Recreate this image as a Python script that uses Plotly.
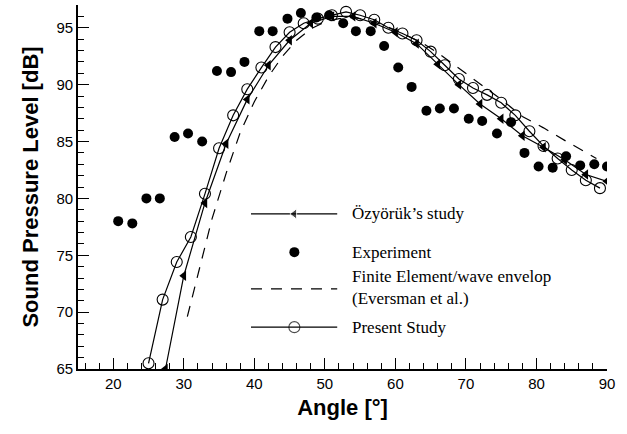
import plotly.graph_objects as go

# Experiment (filled dots)
exp_angle = [20.7, 22.7, 24.7, 26.6, 28.7, 30.6, 32.6, 34.7, 36.7, 38.6, 40.7, 42.6,
             44.7, 46.6, 48.8, 50.6, 52.6, 54.4, 56.5, 58.4, 60.4, 62.3, 64.4, 66.3,
             68.3, 70.4, 72.3, 74.4, 76.4, 78.3, 80.3, 82.3, 84.2, 86.2, 88.2, 90.0]
exp_spl = [78.0, 77.8, 80.0, 80.0, 85.4, 85.7, 85.0, 91.2, 91.1, 92.0, 94.7, 94.7,
           95.8, 96.3, 95.9, 96.1, 95.4, 94.7, 94.7, 93.4, 91.5, 89.8, 87.7, 87.9,
           87.9, 87.0, 86.8, 85.7, 86.7, 84.0, 82.8, 82.7, 83.7, 82.9, 83.0, 82.8]

# Özyörük's study (line with left triangles)
ozy_angle = [27.4, 30, 33, 36, 39, 42, 45, 48, 51, 54, 57, 60, 63, 66, 69, 72, 75,
             78, 81, 84, 87, 90]
ozy_spl = [65.0, 73.2, 79.6, 84.8, 88.7, 91.7, 93.9, 95.4, 96.0, 96.0, 95.4, 94.6,
           93.6, 91.8, 90.0, 88.3, 87.0, 85.5, 84.5, 83.4, 82.1, 81.5]

# Finite Element / wave envelope (Eversman et al.)
fe_angle = [30.5, 32, 34, 36, 38, 40, 42, 44, 46, 48, 50, 52, 54, 56, 58, 60, 62, 64,
            66, 68, 70, 72, 75, 78, 81, 84, 87, 88.5]
fe_spl = [69.6, 73.3, 78.2, 82.2, 85.8, 88.5, 90.7, 92.5, 93.9, 94.9, 95.5, 95.8, 95.9,
          95.7, 95.3, 94.8, 94.2, 93.6, 92.8, 91.9, 91.0, 90.1, 88.7, 87.2, 86.2, 85.1,
          84.0, 83.5]

# Present study (line with open circles)
pres_angle = [25, 27, 29, 31, 33, 35, 37, 39, 41, 43, 45, 47, 49, 51, 53, 55, 57, 59,
              61, 63, 65, 67, 69, 71, 73, 75, 77, 79, 81, 83, 85, 87, 89]
pres_spl = [65.5, 71.1, 74.4, 76.6, 80.4, 84.4, 87.3, 89.6, 91.5, 93.3, 94.6, 95.4,
            95.8, 96.1, 96.4, 96.1, 95.7, 95.0, 94.5, 93.9, 92.9, 91.7, 90.5, 89.7,
            89.1, 88.4, 87.3, 85.9, 84.6, 83.5, 82.5, 81.6, 80.9]

legend_labels = ["Özyörük’s study", "Experiment",
                 "Finite Element/wave envelop<br>(Eversman et al.)", "Present Study"]

x_ticks = [20, 30, 40, 50, 60, 70, 80, 90]
y_ticks = [65, 70, 75, 80, 85, 90, 95]

BLACK = "black"
SERIF = "Liberation Serif, Times New Roman, serif"
SANS = "Liberation Sans, Arial, Helvetica, sans-serif"
DASH = "11px,9px"

fig = go.Figure()

fig.add_trace(go.Scatter(x=exp_angle, y=exp_spl, mode="markers",
                         marker=dict(symbol="circle", size=10, color=BLACK),
                         showlegend=False))
fig.add_trace(go.Scatter(x=fe_angle, y=fe_spl, mode="lines",
                         line=dict(color=BLACK, width=1.2, dash=DASH),
                         showlegend=False))
fig.add_trace(go.Scatter(x=ozy_angle, y=ozy_spl, mode="lines+markers",
                         line=dict(color=BLACK, width=1.2),
                         marker=dict(symbol="triangle-left", size=9, color=BLACK),
                         showlegend=False))
fig.add_trace(go.Scatter(x=pres_angle, y=pres_spl, mode="lines+markers",
                         line=dict(color=BLACK, width=1.2),
                         marker=dict(symbol="circle-open", size=11, color=BLACK,
                                     line=dict(width=1.1, color=BLACK)),
                         showlegend=False))

# Legend keys drawn on an overlay axis spanning [0, 1] in both directions
key_x = [0.327, 0.409, 0.490]
rows_y = [0.426, 0.321, 0.220, 0.115]
fig.add_trace(go.Scatter(x=key_x, y=[rows_y[0]] * 3, xaxis="x2", yaxis="y2",
                         mode="lines+markers", line=dict(color=BLACK, width=1.2),
                         marker=dict(symbol="triangle-left", size=[0, 9, 0], color=BLACK),
                         showlegend=False, hoverinfo="skip"))
fig.add_trace(go.Scatter(x=[key_x[1]], y=[rows_y[1]], xaxis="x2", yaxis="y2",
                         mode="markers", marker=dict(symbol="circle", size=10, color=BLACK),
                         showlegend=False, hoverinfo="skip"))
fig.add_trace(go.Scatter(x=[key_x[0], key_x[2]], y=[rows_y[2]] * 2, xaxis="x2", yaxis="y2",
                         mode="lines", line=dict(color=BLACK, width=1.2, dash=DASH),
                         showlegend=False, hoverinfo="skip"))
fig.add_trace(go.Scatter(x=key_x, y=[rows_y[3]] * 3, xaxis="x2", yaxis="y2",
                         mode="lines+markers", line=dict(color=BLACK, width=1.2),
                         marker=dict(symbol="circle-open", size=[0, 11, 0], color=BLACK,
                                     line=dict(width=1.1, color=BLACK)),
                         showlegend=False, hoverinfo="skip"))

text_y = [0.426, 0.321, 0.225, 0.115]
for label, ty in zip(legend_labels, text_y):
    fig.add_annotation(x=0.514, y=ty, xref="paper", yref="paper", text=label,
                       showarrow=False, xanchor="left", yanchor="middle", align="left",
                       font=dict(family=SERIF, size=17, color=BLACK))

axis_common = dict(
    showline=True, linecolor=BLACK, linewidth=1.6, mirror=False,
    showgrid=False, zeroline=False,
    ticks="inside", ticklen=11, tickwidth=1.3, tickcolor=BLACK,
    tickfont=dict(family=SANS, size=15, color=BLACK),
)

fig.update_layout(
    width=627, height=434,
    margin=dict(l=78, r=20, t=5, b=65),
    paper_bgcolor="white", plot_bgcolor="white",
    showlegend=False,
    xaxis=dict(range=[15, 90], tickvals=x_ticks,
               minor=dict(dtick=2, tick0=0, ticks="inside", ticklen=6,
                          tickwidth=1.1, tickcolor=BLACK),
               title=dict(text="Angle [°]", standoff=9,
                          font=dict(family=SANS, size=22, color=BLACK, weight="bold")),
               **axis_common),
    yaxis=dict(range=[65, 97], tickvals=y_ticks,
               minor=dict(dtick=1, tick0=0, ticks="inside", ticklen=6,
                          tickwidth=1.1, tickcolor=BLACK),
               title=dict(text="Sound Pressure Level [dB]", standoff=12,
                          font=dict(family=SANS, size=22, color=BLACK, weight="bold")),
               **axis_common),
    xaxis2=dict(range=[0, 1], overlaying="x", anchor="y2", visible=False),
    yaxis2=dict(range=[0, 1], overlaying="y", anchor="x2", visible=False),
)

fig.write_html("out.html")
